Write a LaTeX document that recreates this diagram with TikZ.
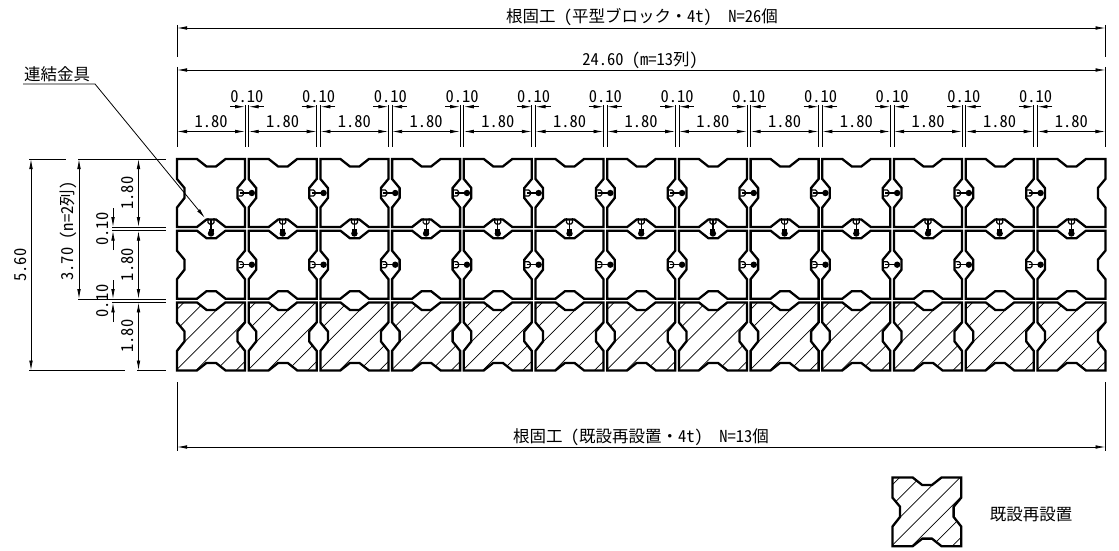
\documentclass[tikz,border=0pt]{standalone}
\usepackage{fontspec}
\newfontfamily\cjk[RawFeature=+hwid]{Noto Sans CJK JP}
\usetikzlibrary{arrows.meta}
\tikzset{
  lbl/.style={font=\cjk\fontsize{16.5}{16.5}\selectfont,inner sep=0pt},
  dimline/.style={<->,>={Latex[length=10pt,width=3.6pt]},line width=0.8pt},
  halfdim/.style={->,>={Latex[length=10pt,width=3.6pt]},line width=0.8pt},
  extline/.style={line width=0.8pt},
  blockline/.style={line width=2.3pt,line join=miter},
  hatchline/.style={line width=0.7pt},
  fitting/.style={line width=1.2pt}
}
\newcommand{\halfsp}{\hspace{8.25pt}}
\newcommand{\blockpath}{(0,0)--(20,0)--(29.5,7.5)--(39,7.5)--(48.5,0)--(68,0)--(68,20)--(60.5,29)--(60.5,39)--(68,48.5)--(68,68)--(48.5,68)--(39,60.5)--(29.5,60.5)--(20,68)--(0,68)--(0,48.5)--(7.5,39)--(7.5,29)--(0,20)--cycle}
\newcommand{\hatchblock}{%
  \begin{scope}
    \clip \blockpath;
    \foreach \k in {7,27,...,127}
      \draw[hatchline] (\k,0)--(0,\k);
  \end{scope}
  \draw[blockline] \blockpath;}
\begin{document}
\begin{tikzpicture}[x=1pt,y=-1pt]
  \useasboundingbox (0,0) rectangle (1119,551);
  % blocks
  \foreach \i in {0,...,12}{
    \pgfmathsetmacro{\bx}{177+71.7*\i}
    \begin{scope}[shift={(\bx,159)}]
      \draw[blockline] \blockpath;
    \end{scope}
    \begin{scope}[shift={(\bx,230.7)}]
      \draw[blockline] \blockpath;
    \end{scope}
    \begin{scope}[shift={(\bx,302.4)}]
      \hatchblock
    \end{scope}
    % fittings between the rows
    \begin{scope}[shift={(\bx+34,229)}]
      \draw[fitting,rounded corners=1.5pt] (-3,-11)--(-3,-5)--(3,-5)--(3,-11);
      \draw[fitting] (0,-9)--(0,4);
      \fill (0,4.5) circle (3.2);
      \fill (-2.5,0)--(2.5,0)--(2.5,3)--(-2.5,3)--cycle;
    \end{scope}
  }
  % fittings between the columns
  \foreach \i in {0,...,11}{
    \pgfmathsetmacro{\gx}{177+69.85+71.7*\i}
    \foreach \gy in {193,264.7}{
      \begin{scope}[shift={(\gx,\gy)}]
        \draw[fitting,rounded corners=1.5pt] (-8.5,-3)--(-3.5,-3)--(-3.5,3)--(-8.5,3);
        \draw[fitting] (-7,0)--(5,0);
        \fill (5,0) circle (3.2);
      \end{scope}
    }
  }
  % legend
  \begin{scope}[shift={(892.5,477.5)},scale=1.01]
    \hatchblock
  \end{scope}
  \node[lbl] (legendlbl) at (1031,515) {既設再設置};
  % top dimensions
  \node[lbl] (toplbl) at (642,17) {根固工\halfsp(平型ブロック・4t)\halfsp\halfsp N=26個};
  \draw[dimline] (177,28)--(1105.5,28);
  \draw[extline] (177,25)--(177,57) (1105.5,25)--(1105.5,57);
  \node[lbl] (widthlbl) at (640,60) {24.60\halfsp(m=13列)};
  \draw[dimline] (177,70)--(1105.5,70);
  \draw[extline] (177,67)--(177,147) (1105.5,67)--(1105.5,147);
  \foreach \i in {0,...,12}{
    \pgfmathsetmacro{\bx}{177+71.7*\i}
    \draw[dimline] (\bx,131.5)--(\bx+68,131.5);
    \node[lbl] (wlbl\i) at (\bx+34,121.5) {1.80};
  }
  \foreach \i in {0,...,11}{
    \pgfmathsetmacro{\gx}{177+68+71.7*\i}
    \draw[extline] (\gx,105)--(\gx,147) (\gx+3.7,105)--(\gx+3.7,147);
    \draw[halfdim] (\gx-15,106.7)--(\gx,106.7);
    \draw[halfdim] (\gx+18.7,106.7)--(\gx+3.7,106.7);
    \node[lbl] (glbl\i) at (\gx+1.9,96.5) {0.10};
  }
  % bottom dimension
  \node[lbl] (botlbl) at (641,437) {根固工\halfsp(既設再設置・4t)\halfsp\halfsp N=13個};
  \draw[dimline] (177,447)--(1105.5,447);
  \draw[extline] (177,382)--(177,451) (1105.5,382)--(1105.5,451);
  % left dimensions
  \draw[dimline] (31,159)--(31,370.5);
  \draw[dimline] (79,159)--(79,299);
  \draw[dimline] (138.5,159)--(138.5,227);
  \draw[dimline] (138.5,230.7)--(138.5,299);
  \draw[dimline] (138.5,302.4)--(138.5,370.5);
  \draw[halfdim] (113,208)--(113,227);
  \draw[halfdim] (113,250)--(113,230.7);
  \draw[halfdim] (113,280)--(113,299);
  \draw[halfdim] (113,322)--(113,302.4);
  \draw[extline] (29,159)--(66,159) (78,159)--(166,159);
  \draw[extline] (112,227)--(166,227) (112,230.7)--(166,230.7);
  \draw[extline] (78,299)--(166,299) (112,302.4)--(166,302.4);
  \draw[extline] (29,370.5)--(125,370.5) (137,370.5)--(166,370.5);
  \node[lbl,rotate=90] (allh) at (21,265) {5.60};
  \node[lbl,rotate=90] (rowh) at (68,231) {3.70\halfsp(n=2列)};
  \node[lbl,rotate=90] (hlbl1) at (128,193) {1.80};
  \node[lbl,rotate=90] (hlbl2) at (128,264.5) {1.80};
  \node[lbl,rotate=90] (hlbl3) at (128,336) {1.80};
  \node[lbl,rotate=90] (vgap1) at (103,229) {0.10};
  \node[lbl,rotate=90] (vgap2) at (103,301) {0.10};
  % fitting leader
  \node[lbl,anchor=south,inner sep=1.5pt] (kanagu) at (57,84) {連結金具};
  \coordinate (kanagustart) at (23,84);
  \coordinate (kanagubend) at (95,84);
  \coordinate (kanagutip) at (205,218);
  \draw[halfdim] (kanagustart)--(kanagubend)--(kanagutip);
\end{tikzpicture}
\end{document}
